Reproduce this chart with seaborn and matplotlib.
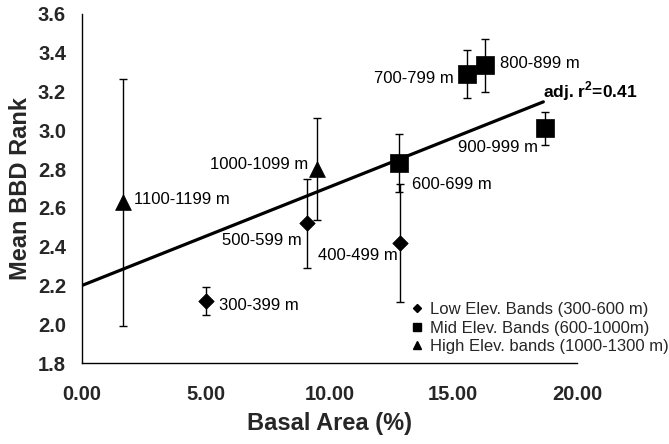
import matplotlib
matplotlib.use("Agg")
import matplotlib.pyplot as plt
from matplotlib.lines import Line2D
import seaborn as sns
import pandas as pd

# ---- data ----
low_labels = ["300-399 m", "400-499 m", "500-599 m"]
low_x = [5.01, 12.85, 9.09]
low_y = [2.12, 2.42, 2.52]
low_err = [0.07, 0.305, 0.23]

mid_labels = ["600-699 m", "700-799 m", "800-899 m", "900-999 m"]
mid_x = [12.82, 15.54, 16.28, 18.71]
mid_y = [2.83, 3.29, 3.335, 3.01]
mid_err = [0.15, 0.125, 0.135, 0.087]

high_labels = ["1000-1099 m", "1100-1199 m"]
high_x = [9.51, 1.64]
high_y = [2.80, 2.63]
high_err = [0.265, 0.637]

group_names = ["Low Elev. Bands (300-600 m)", "Mid Elev. Bands (600-1000m)",
               "High Elev. bands (1000-1300 m)"]

fit_intercept = 2.20
fit_slope = 0.0508
fit_x = [0.0, 18.64]
fit_text = "adj. r$^{\\mathbf{2}}$=0.41"

x_ticks = [0, 5, 10, 15, 20]
y_ticks = [1.8, 2.0, 2.2, 2.4, 2.6, 2.8, 3.0, 3.2, 3.4, 3.6]

# label offsets (points) and alignment for each band label
label_style = {
    "300-399 m": ((9, -3), "left"),
    "400-499 m": ((-1.5, -9.5), "right"),
    "500-599 m": ((-3.5, -12), "right"),
    "600-699 m": ((9, -15), "left"),
    "700-799 m": ((-9, -3), "right"),
    "800-899 m": ((11, 1.5), "left"),
    "900-999 m": ((-5, -13.5), "right"),
    "1000-1099 m": ((-6.5, 3.5), "right"),
    "1100-1199 m": ((8.5, 2), "left"),
}

rows = []
for g, labs, xs, ys, es in [(group_names[0], low_labels, low_x, low_y, low_err),
                            (group_names[1], mid_labels, mid_x, mid_y, mid_err),
                            (group_names[2], high_labels, high_x, high_y, high_err)]:
    for l, x, y, e in zip(labs, xs, ys, es):
        rows.append(dict(group=g, label=l, x=x, y=y, err=e))
df = pd.DataFrame(rows)

sns.set_theme(style="white")
plt.rcParams["font.family"] = ["Liberation Sans", "DejaVu Sans"]
plt.rcParams["mathtext.fontset"] = "custom"
plt.rcParams["mathtext.rm"] = "Liberation Sans"
plt.rcParams["mathtext.bf"] = "Liberation Sans:bold"

fig = plt.figure(figsize=(6.69, 4.44), dpi=100)
ax = fig.add_axes([0.1226, 0.1824, 0.7399, 0.7861])

# error bars
ax.errorbar(df["x"], df["y"], yerr=df["err"], fmt="none", ecolor="black",
            elinewidth=1.0, capsize=3.2, capthick=1.0, zorder=2)

# regression line
fit_df = pd.DataFrame({"x": fit_x, "y": [fit_intercept + fit_slope * v for v in fit_x]})
sns.lineplot(data=fit_df, x="x", y="y", color="black", linewidth=2.3, ax=ax, zorder=3)

markers = {group_names[0]: "D", group_names[1]: "s", group_names[2]: "^"}
sizes = {group_names[0]: 62, group_names[1]: 150, group_names[2]: 130}
for g in group_names:
    sub = df[df["group"] == g]
    sns.scatterplot(data=sub, x="x", y="y", marker=markers[g], s=sizes[g],
                    color="black", edgecolor="black", linewidth=0.5,
                    ax=ax, zorder=4, legend=False)

for _, r in df.iterrows():
    off, ha = label_style[r["label"]]
    ax.annotate(r["label"], (r["x"], r["y"]), xytext=off, textcoords="offset points",
                ha=ha, va="center", fontsize=12, color="black")

ax.annotate(fit_text, (fit_x[-1], fit_intercept + fit_slope * fit_x[-1]), xytext=(0, 7.5),
            textcoords="offset points", ha="left", va="center", fontsize=12.5,
            fontweight="bold", color="black")

ax.set_xlim(0, 20)
ax.set_ylim(1.8, 3.6)
ax.set_xticks(x_ticks)
ax.set_xticklabels([f"{v:.2f}" for v in x_ticks])
ax.set_yticks(y_ticks)
ax.set_yticklabels([f"{v:.1f}" for v in y_ticks])
for lab in ax.get_xticklabels() + ax.get_yticklabels():
    lab.set_fontweight("bold")
    lab.set_fontsize(14.5)
ax.tick_params(axis="both", direction="out", length=4.5, width=1, color="black")
ax.tick_params(axis="x", pad=11)
ax.tick_params(axis="y", pad=7)
for s in ["top", "right"]:
    ax.spines[s].set_visible(False)
for s in ["left", "bottom"]:
    ax.spines[s].set_color("black")
    ax.spines[s].set_linewidth(1.0)

ax.set_xlabel("Basal Area (%)", fontsize=17, fontweight="bold", labelpad=6)
ax.set_ylabel("Mean BBD Rank", fontsize=17, fontweight="bold", labelpad=4)

handles = [Line2D([], [], marker=markers[g], linestyle="none", color="black",
                  markersize=ms) for g, ms in zip(group_names, [4.5, 5.5, 6])]
ax.legend(handles, group_names, loc="lower right", bbox_to_anchor=(1.0, 0.203),
          bbox_transform=fig.transFigure, frameon=False, fontsize=12,
          handletextpad=0.3, labelspacing=0.2, borderaxespad=0, borderpad=0,
          handlelength=1.0)

fig.savefig("out.png", dpi=100)
